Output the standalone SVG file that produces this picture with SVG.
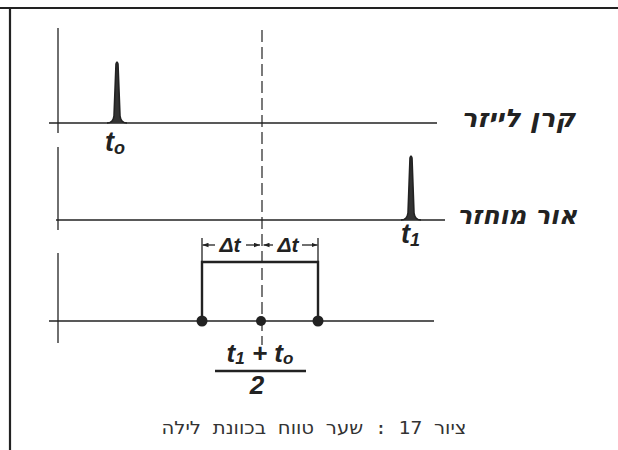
<svg xmlns="http://www.w3.org/2000/svg" width="618" height="450" viewBox="0 0 618 450">
<defs>
<style>
.ln{stroke:#222;stroke-width:1.3;fill:none}
.ax{stroke:#333;stroke-width:1.4;fill:none}
.pulse{stroke:#222;stroke-width:1.6;fill:#333;stroke-linejoin:round}
.hand{font-family:"Liberation Sans","DejaVu Sans",sans-serif;font-style:italic;font-weight:bold;fill:#222}
.heb{font-family:"DejaVu Sans","Liberation Sans",sans-serif;font-style:italic;font-weight:bold;fill:#222}
.cap{font-family:"DejaVu Sans Mono","DejaVu Sans",monospace;fill:#333}
</style>
<marker id="ah" viewBox="0 0 8 6" refX="8" refY="3" markerWidth="6" markerHeight="5" orient="auto" markerUnits="userSpaceOnUse">
<path d="M0,0 L8,3 L0,6 Z" fill="#222"/>
</marker>
</defs>
<rect width="618" height="450" fill="#fff"/>
<g id="frame">
<line x1="0" y1="8" x2="618" y2="8" stroke="#222" stroke-width="2.2"/>
<line x1="10" y1="8" x2="10" y2="450" stroke="#222" stroke-width="2.2"/>
</g>
<g id="axes">
<line class="ax" x1="58" y1="28" x2="58" y2="133"/>
<line class="ax" x1="58" y1="147" x2="58" y2="230"/>
<line class="ax" x1="58" y1="253" x2="58" y2="343"/>
<line x1="262" y1="30" x2="262" y2="345" stroke="#333" stroke-width="1.3" stroke-dasharray="12,5"/>
</g>
<g id="laser-beam">
<line class="ln" x1="49" y1="123" x2="437" y2="123"/>
<path class="pulse" d="M107,123 Q113,123 114,116 L116,64 Q117,60 118,64 L120,116 Q121,123 127,123"/>
<text class="hand" x="105" y="151" font-size="27">t<tspan font-size="18" dy="3">o</tspan></text>
<text class="heb" x="518" y="127" font-size="25" text-anchor="middle" direction="rtl" textLength="114" lengthAdjust="spacingAndGlyphs">קרן לייזר</text>
</g>
<g id="reflected-light">
<line class="ln" x1="56" y1="220" x2="445" y2="220"/>
<path class="pulse" d="M401,220 Q407,220 408,213 L410,158 Q411,154 412,158 L414,213 Q415,220 421,220"/>
<text class="hand" x="401" y="243" font-size="27">t<tspan font-size="18" dy="3">1</tspan></text>
<text class="heb" x="517" y="224" font-size="25" text-anchor="middle" direction="rtl" textLength="120" lengthAdjust="spacingAndGlyphs">אור מוחזר</text>
</g>
<g id="range-gate">
<line class="ln" x1="49" y1="321" x2="434" y2="321"/>
<path d="M202,321 L202,262 L318,262 L318,321" stroke="#222" stroke-width="2.4" fill="none"/>
<circle cx="202" cy="321" r="5.5" fill="#222"/>
<circle cx="261" cy="321" r="5" fill="#222"/>
<circle cx="318" cy="321" r="5.5" fill="#222"/>
</g>
<g id="connectors">
<line class="ln" x1="202" y1="238" x2="202" y2="262"/>
<line class="ln" x1="318" y1="238" x2="318" y2="262"/>
<line class="ln" x1="215" y1="245" x2="202.5" y2="245" marker-end="url(#ah)"/>
<line class="ln" x1="246" y1="245" x2="260" y2="245" marker-end="url(#ah)"/>
<line class="ln" x1="273" y1="245" x2="263.5" y2="245" marker-end="url(#ah)"/>
<line class="ln" x1="302" y1="245" x2="317.5" y2="245" marker-end="url(#ah)"/>
</g>
<g id="dt-labels">
<text class="hand" x="230" y="252" font-size="21" text-anchor="middle">Δt</text>
<text class="hand" x="288" y="252" font-size="21" text-anchor="middle">Δt</text>
</g>
<g id="midpoint">
<text class="hand" x="260" y="362" font-size="26" text-anchor="middle">t<tspan font-size="17" dy="2">1</tspan><tspan dy="-2"> + t</tspan><tspan font-size="17" dy="2">o</tspan></text>
<line x1="215" y1="371" x2="306" y2="371" stroke="#222" stroke-width="2.5"/>
<text class="hand" x="257" y="394" font-size="26" text-anchor="middle">2</text>
</g>
<text class="cap" x="314" y="434" font-size="18" text-anchor="middle" direction="rtl" textLength="305" lengthAdjust="spacingAndGlyphs">ציור 17 : שער טווח בכוונת לילה</text>
</svg>
